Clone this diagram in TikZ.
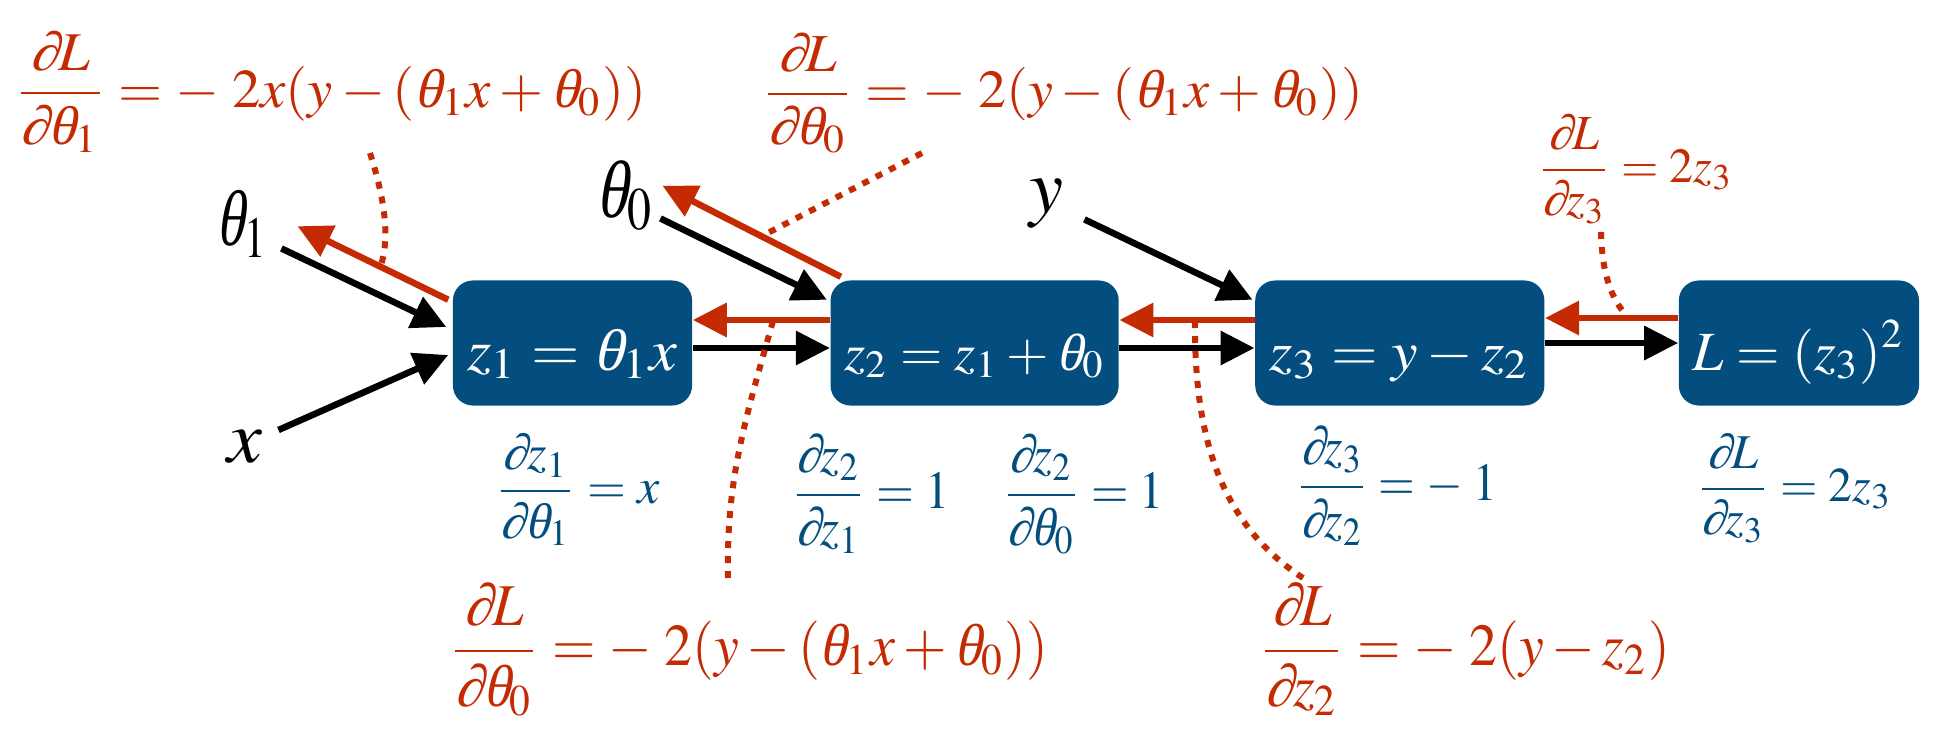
\documentclass[tikz,border=0pt]{standalone}
\usepackage{amsmath}
\usepackage{graphicx}
\usepackage{mathptmx}
\usepackage{fontspec}
\setmainfont{Liberation Serif}
\newfontface\slantit{Liberation Serif}[FakeSlant=0.22]
\usepackage{tikz}
\usetikzlibrary{positioning, arrows.meta}
\definecolor{boxblue}{HTML}{034E7F}
\definecolor{gradred}{HTML}{C42B02}
\newcommand{\fitm}[3]{\resizebox*{#1}{#2}{$\displaystyle #3$}}
\newcommand{\vth}{\text{\slantit θ}}
\newcommand{\pd}{\text{\slantit ∂}}
\tikzset{
	opbox/.style={
		fill=boxblue,
		text=white,
		rounded corners=0.2cm,
		inner sep=0pt,
		minimum height=1.25cm,
		text height=0.54cm,
		text depth=0pt
	},
	labe/.style={
		inner sep=0pt,
		anchor=north west
	},
	gradlabe/.style={labe, text=gradred},
	locallabe/.style={labe, text=boxblue},
	fwd/.style={
		draw=black,
		line width=0.065cm,
		-{Triangle[length=0.34cm, width=0.33cm]}
	},
	bwd/.style={fwd, draw=gradred, fill=gradred},
	leader/.style={
		draw=gradred,
		line width=0.06cm,
		dash pattern=on 0.07cm off 0.08cm
	}
}

\begin{document}
\begin{tikzpicture}[x=0.01cm, y=-0.01cm, node distance=1.35cm]
\useasboundingbox (0,0) rectangle (1934,740);

% computation graph
\node(b1)[opbox, minimum width=2.39cm] at (572.5,343) {\fitm{2.10cm}{0.50cm}{z_1=\vth_1x}};
\node(b2)[opbox, minimum width=2.88cm, right=1.37cm of b1] {\fitm{2.61cm}{0.45cm}{z_2=z_1+\vth_0}};
\node(b3)[opbox, minimum width=2.89cm, right=of b2] {\fitm{2.60cm}{0.44cm}{z_3=y-z_2}};
\node(b4)[opbox, minimum width=2.40cm, right=1.33cm of b3] {\fitm{2.12cm}{0.64cm}{L=(z_3)^2}};

% inputs
\node(t1)[labe] at (216,190) {\fitm{0.52cm}{0.67cm}{\vth_1}};
\node(xv)[labe] at (227,430) {\fitm{0.35cm}{0.33cm}{x}};
\node(t0)[labe] at (596,160) {\fitm{0.58cm}{0.70cm}{\vth_0}};
\node(yv)[labe] at (1029,178) {\fitm{0.34cm}{0.49cm}{y}};

% local derivatives
\node(g1)[locallabe] at (494,433) {\fitm{1.65cm}{1.12cm}{\frac{\pd z_1}{\pd \vth_1}=x}};
\node(g2)[locallabe] at (790,433) {\fitm{1.59cm}{1.20cm}{\frac{\pd z_2}{\pd z_1}=1}};
\node(g3)[locallabe] at (1001,433) {\fitm{1.62cm}{1.20cm}{\frac{\pd z_2}{\pd \vth_0}=1}};
\node(g4)[locallabe] at (1295,425) {\fitm{2.01cm}{1.20cm}{\frac{\pd z_3}{\pd z_2}=-\;1}};
\node(g5)[locallabe] at (1695,433) {\fitm{1.96cm}{1.09cm}{\frac{\pd L}{\pd z_3}=2z_3}};

% gradients of L
\node(lt1)[gradlabe] at (13,30) {\fitm{6.32cm}{1.22cm}{\frac{\pd L}{\pd \vth_1}=-\;2x(y-(\vth_1x+\vth_0))}};
\node(lt0)[gradlabe] at (761,32) {\fitm{6.01cm}{1.20cm}{\frac{\pd L}{\pd \vth_0}=-\;2(y-(\vth_1x+\vth_0))}};
\node(lz3)[gradlabe] at (1536,113) {\fitm{1.96cm}{1.10cm}{\frac{\pd L}{\pd z_3}=2z_3}};
\node(lb0)[gradlabe] at (448,582) {\fitm{5.99cm}{1.33cm}{\frac{\pd L}{\pd \vth_0}=-\;2(y-(\vth_1x+\vth_0))}};
\node(lz2)[gradlabe] at (1258,582) {\fitm{4.11cm}{1.33cm}{\frac{\pd L}{\pd z_2}=-\;2(y-z_2)}};

% forward pass
\draw[fwd] ([shift={(12,-10)}]t1.south east) -- ([shift={(-6,-16)}]b1.west);
\draw[fwd] ([shift={(15,0)}]xv.north east) -- ([shift={(-4,12)}]b1.west);
\draw[fwd] ([shift={(5,-13)}]t0.south east) -- ([shift={(-3,20)}]b2.north west);
\draw[fwd] ([shift={(20,-9)}]yv.south east) -- ([shift={(-2,20)}]b3.north west);
\draw[fwd] ([shift={(0,5)}]b1.east) -- ([shift={(0,5)}]b2.west);
\draw[fwd] ([shift={(0,5)}]b2.east) -- ([shift={(0,5)}]b3.west);
\draw[fwd] (b3.east) -- (b4.west);

% backward pass
\draw[bwd] ([shift={(-4,20)}]b1.north west) -- ([shift={(28,2)}]t1.east);
\draw[bwd] ([shift={(11,-3)}]b2.north west) -- ([shift={(7,-10)}]t0.east);
\draw[bwd] ([shift={(0,-23)}]b2.west) -- ([shift={(0,-23)}]b1.east);
\draw[bwd] ([shift={(0,-23)}]b3.west) -- ([shift={(0,-23)}]b2.east);
\draw[bwd] ([shift={(0,-25)}]b4.west) -- ([shift={(0,-25)}]b3.east);

% leaders
\coordinate (d1) at (370,153);
\coordinate (d2) at (922,153);
\coordinate (d3) at (773,321);
\coordinate (d4) at (1195,321);
\coordinate (d5) at (1601,232);
\draw[leader] (d1) .. controls (380,185) and (392,230) .. (381,265);
\draw[leader] (d2) -- (762,236);
\draw[leader] (d3) .. controls (745,420) and (726,480) .. (728,578);
\draw[leader] (d4) .. controls (1194,440) and (1222,525) .. (1303,578);
\draw[leader] (d5) .. controls (1602,275) and (1612,300) .. (1627,316);

\end{tikzpicture}
\end{document}
